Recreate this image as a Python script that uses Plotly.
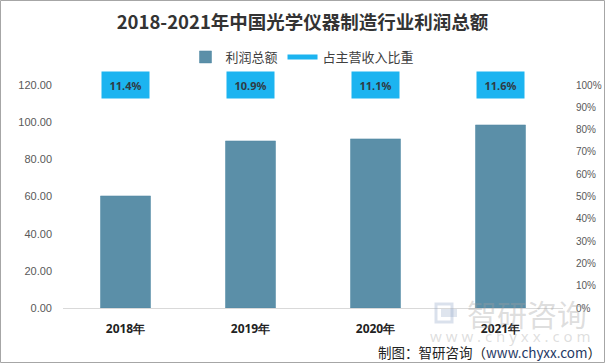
import plotly.graph_objects as go

years = ["2018年", "2019年", "2020年", "2021年"]
profit = [60.3, 89.9, 91.0, 98.5]
ratio = [11.4, 10.9, 11.1, 11.6]
ratio_labels = ["11.4%", "10.9%", "11.1%", "11.6%"]
left_ticks = [0, 20, 40, 60, 80, 100, 120]
right_ticks = [0, 10, 20, 30, 40, 50, 60, 70, 80, 90, 100]
right_tick_text = ["0%", "10%", "20%", "30%", "40%", "50%", "60%", "70%", "80%", "90%", "100%"]

W, H = 605, 363
L, R, T, B = 63, 42, 85, 55
pw, ph = W - L - R, H - T - B

def px(x):
    return (x - L) / pw

def py(y):
    return (H - B - y) / ph

fig = go.Figure()
fig.add_trace(go.Bar(x=years, y=profit, name="利润总额", marker_color="#5B8FA8",
                     marker_line_color="#4F86A3", marker_line_width=0.5, width=0.4))
fig.add_trace(go.Scatter(x=[None], y=[None], mode="lines", name="占主营收入比重",
                         line=dict(color="#1CB4F0", width=5), yaxis="y2"))

for yr, lab in zip(years, ratio_labels):
    fig.add_annotation(x=yr, y=120, xref="x", yref="y", text="<b>" + lab + "</b>",
                       showarrow=False, bgcolor="#1CB4F0", width=45, height=24,
                       font=dict(size=11, color="#2F3B45", family="Noto Sans"),
                       yanchor="middle", xanchor="center")

font_cjk = "Noto Sans CJK SC"
# watermark logo
fig.add_shape(type="rect", xref="paper", yref="paper", x0=px(436), x1=px(452), y0=py(322), y1=py(304),
              line=dict(color="rgba(150,170,200,0.35)", width=3), fillcolor="rgba(0,0,0,0)")
fig.add_shape(type="rect", xref="paper", yref="paper", x0=px(441), x1=px(457), y0=py(317), y1=py(309),
              line=dict(width=0), fillcolor="rgba(150,170,200,0.30)")
fig.add_annotation(xref="paper", yref="paper", x=px(527), y=py(313), text="智研咨询",
                   xanchor="center", yanchor="middle",
                   showarrow=False, font=dict(size=30, color="rgba(160,160,160,0.35)", family=font_cjk))
fig.add_annotation(xref="paper", yref="paper", x=px(510), y=py(336), text="w w w . c h y x x . c o m",
                   xanchor="center", yanchor="middle",
                   showarrow=False, font=dict(size=15, color="rgba(160,160,160,0.35)", family="Noto Sans"))
# credit
fig.add_annotation(xref="paper", yref="paper", x=px(603), y=py(352), xanchor="right", yanchor="middle",
                   text="制图：智研咨询（<span style='color:#1F3864'>www.chyxx.com</span>）",
                   showarrow=False, font=dict(size=13.5, color="#222222", family=font_cjk))

# outer border
fig.add_shape(type="rect", xref="paper", yref="paper", x0=px(0.5), x1=px(604.5), y0=py(362.5), y1=py(0.5),
              line=dict(color="#A6A6A6", width=1), fillcolor="rgba(0,0,0,0)", layer="below")

fig.update_layout(
    width=W, height=H,
    margin=dict(l=L, r=R, t=T, b=B, autoexpand=False),
    paper_bgcolor="white", plot_bgcolor="white",
    title=dict(text="<b>2018-2021年中国光学仪器制造行业利润总额</b>", x=0.5, xref="container",
               xanchor="center", y=1 - 23 / H, yref="container", yanchor="middle",
               font=dict(size=18.5, color="#333333", family=font_cjk)),
    legend=dict(orientation="h", x=0.5, xanchor="center", xref="container",
                y=1 - 57 / H, yref="container", yanchor="middle",
                font=dict(size=13, color="#404040", family=font_cjk), itemwidth=30,
                traceorder="normal"),
    showlegend=True,
    xaxis=dict(showline=True, linecolor="#D9D9D9", linewidth=1, ticks="",
               tickfont=dict(size=12, color="#222222", family="Noto Sans"),
               ticklabelstandoff=10),
    yaxis=dict(range=[0, 120], tickvals=left_ticks, tickformat=".2f", showgrid=False,
               zeroline=False, showline=False,
               tickfont=dict(size=11, color="#595959", family="Liberation Sans"),
               ticklabelstandoff=10),
    yaxis2=dict(range=[0, 100], tickvals=right_ticks, ticktext=right_tick_text, overlaying="y",
                side="right", showgrid=False, zeroline=False, showline=False,
                tickfont=dict(size=10, color="#595959", family="Liberation Sans"),
                ticklabelstandoff=12),
    bargap=0.6,
)
fig.update_xaxes(tickprefix="<b>", ticksuffix="</b>")

fig.write_html("out.html", config={"displayModeBar": False},
               post_script="document.body.style.margin='0';document.body.style.overflow='hidden';")
